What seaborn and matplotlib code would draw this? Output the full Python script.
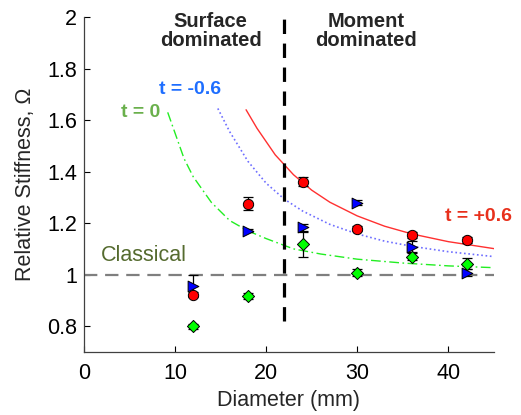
import numpy as np
import pandas as pd
import seaborn as sns
import matplotlib.pyplot as plt

# measured points (diameter in mm, relative stiffness)
diam = [12, 18, 24, 30, 36, 42]
om_red = [0.922, 1.276, 1.361, 1.179, 1.155, 1.136]
err_red = [0.01, 0.024, 0.017, 0.01, 0.012, 0.012]
om_blue = [0.957, 1.171, 1.183, 1.28, 1.109, 1.008]
err_blue = [0.04, 0.006, 0.015, 0.008, 0.02, 0.015]
om_green = [0.80, 0.918, 1.117, 1.008, 1.07, 1.043]
err_green = [0.01, 0.012, 0.05, 0.015, 0.015, 0.02]

# model curves
green_d = [9.2, 10, 11, 12, 14, 16, 18, 20, 23, 26, 30, 35, 40, 45]
green_om = [1.63, 1.55, 1.45, 1.38, 1.28, 1.21, 1.17, 1.14, 1.10, 1.08, 1.06, 1.045, 1.034, 1.027]
blue_d = [14.7, 16, 18, 20, 22, 24, 27, 30, 33, 36, 40, 45]
blue_om = [1.645, 1.555, 1.44, 1.355, 1.293, 1.247, 1.195, 1.158, 1.13, 1.11, 1.089, 1.07]
red_d = [17.8, 19, 21, 23, 25, 27, 30, 33, 36, 40, 45]
red_om = [1.64, 1.568, 1.465, 1.388, 1.328, 1.281, 1.228, 1.188, 1.158, 1.128, 1.101]

sns.set_theme(style="ticks")
plt.rcParams['font.family'] = ['Liberation Sans', 'DejaVu Sans']
plt.rcParams['xtick.direction'] = 'in'
plt.rcParams['ytick.direction'] = 'in'

fig = plt.figure(figsize=(5.21, 4.15), dpi=100)
ax = fig.add_axes([0.161, 0.152, 0.787, 0.807])

# curves
sns.lineplot(x=green_d, y=green_om, sort=False, color='#22EE22', lw=1.0, ax=ax,
             dashes=False, linestyle=(0, (7, 2.5, 1.2, 2.5)))
sns.lineplot(x=blue_d, y=blue_om, sort=False, color='#6E6EFF', lw=1.2, ax=ax,
             linestyle=(0, (1, 1.6)))
sns.lineplot(x=red_d, y=red_om, sort=False, color='#FF3030', lw=1.0, ax=ax)

# classical line and regime boundary
ax.axhline(1.0, color='#7F7F7F', lw=1.6, dashes=(6, 3.5), zorder=1)
ax.plot([22, 22], [0.82, 2.02], color='black', lw=2.3, dashes=(4.5, 3),
        clip_on=False, zorder=2)

# error bars + markers
for om, err in [(om_red, err_red), (om_blue, err_blue), (om_green, err_green)]:
    ax.errorbar(diam, om, yerr=err, fmt='none', ecolor='black', elinewidth=0.9,
                capsize=3.5, capthick=0.9, zorder=3)

sns.scatterplot(x=diam, y=om_red, marker='o', s=55, color='#FF0000',
                edgecolor='black', linewidth=0.7, ax=ax, zorder=4)
sns.scatterplot(x=diam, y=om_blue, marker='>', s=60, color='#0000FF',
                edgecolor='black', linewidth=0.7, ax=ax, zorder=5)
sns.scatterplot(x=diam, y=om_green, marker='D', s=38, color='#00FF00',
                edgecolor='black', linewidth=0.7, ax=ax, zorder=6)

# annotations
ax.text(13.9, 1.944, 'Surface\ndominated', ha='center', va='center', fontsize=14.5,
        fontweight='bold', linespacing=1.0, clip_on=False)
ax.text(31.0, 1.944, 'Moment\ndominated', ha='center', va='center', fontsize=14.5,
        fontweight='bold', linespacing=1.0, clip_on=False)
ax.text(11.65, 1.718, 't = -0.6', color='#1E6EFF', ha='center', va='center',
        fontsize=14, fontweight='bold')
ax.text(6.26, 1.63, 't = 0', color='#6AB04C', ha='center', va='center',
        fontsize=14, fontweight='bold')
ax.text(43.3, 1.225, 't = +0.6', color='#E8301C', ha='center', va='center',
        fontsize=14, fontweight='bold', clip_on=False)
ax.text(6.6, 1.074, 'Classical', color='#556B2F', ha='center', va='center',
        fontsize=15.5)

ax.set_xlim(0, 45)
ax.set_ylim(0.7, 2.0)
ax.set_xticks([0, 10, 20, 30, 40])
ax.set_yticks([0.8, 1, 1.2, 1.4, 1.6, 1.8, 2])
ax.set_yticklabels(['0.8', '1', '1.2', '1.4', '1.6', '1.8', '2'])
ax.tick_params(labelsize=15.5, length=4, width=0.8, colors='black')
ax.tick_params(axis='x', pad=8)
ax.tick_params(axis='y', pad=5)
ax.set_xlabel('Diameter (mm)', fontsize=15.5, labelpad=4)
ax.set_ylabel('Relative Stiffness, \u03a9', fontsize=15.5, labelpad=8)
for s in ['top', 'right']:
    ax.spines[s].set_visible(False)
for s in ['left', 'bottom']:
    ax.spines[s].set_color('#404040')
    ax.spines[s].set_linewidth(0.9)

fig.savefig('out.png', dpi=100)
